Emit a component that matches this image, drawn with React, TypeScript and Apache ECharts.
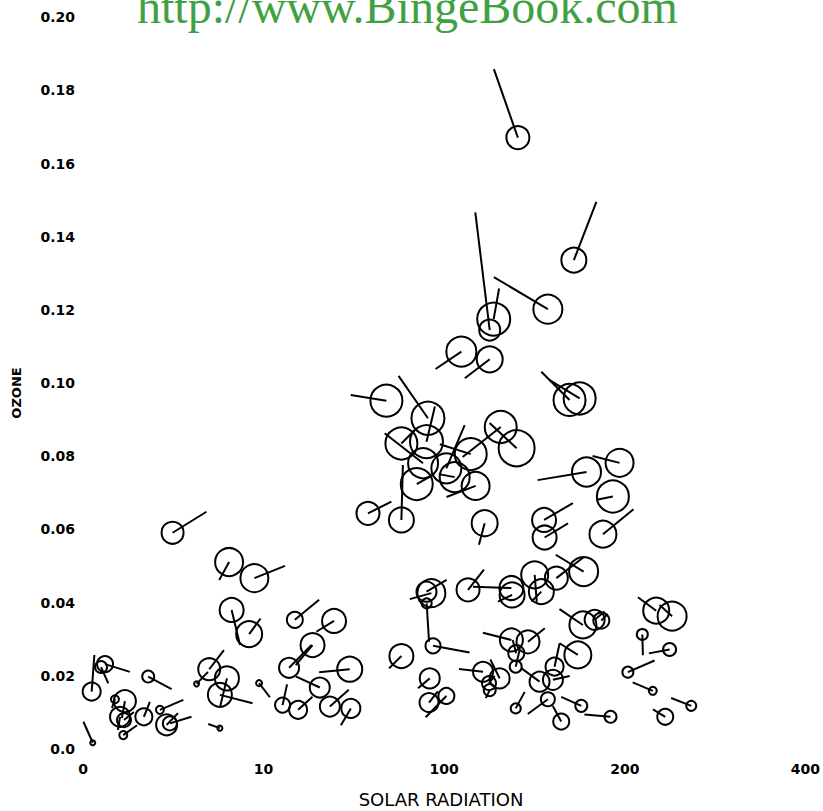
import React, { useEffect, useRef } from 'react';
import * as echarts from 'echarts';

// x positions are on the chart's own stretched scale: tick k carries label xTickLabels[k]
const xTickLabels = ['0', '10', '100', '200', '400'];

const solarScaled = [
  2.408, 2.718, 2.574, 2.274, 2.252, 2.095, 2.252, 1.680, 2.694, 2.750,
  1.910, 1.902, 1.763, 1.883, 2.012, 2.147, 2.313, 2.401, 1.848, 2.058,
  2.174, 2.788, 2.971, 2.934, 2.879, 2.553, 2.556, 1.578, 1.763, 2.224,
  0.496, 0.809, 0.949, 0.823, 0.920, 1.173, 1.390, 1.271, 1.141, 1.311,
  1.477, 1.105, 1.191, 1.367, 1.483, 1.929, 1.902, 1.903, 1.938, 1.763,
  1.920, 1.916, 2.012, 2.132, 2.372, 2.376, 2.501, 2.538, 2.621, 2.772,
  2.768, 2.833, 2.870, 3.174, 3.262, 2.372, 2.464, 2.399, 2.396, 2.215,
  2.307, 2.248, 2.252, 2.611, 2.740, 2.602, 2.528, 2.574, 2.396, 2.648,
  2.759, 2.921, 3.097, 3.248, 3.017, 3.155, 3.368, 3.224, 0.699, 0.797,
  0.758, 0.629, 0.975, 0.758, 0.122, 0.100, 0.048, 0.361, 0.177, 0.232,
  0.205, 0.227, 0.337, 0.223, 0.426, 0.463, 0.481, 0.054,
];

const ozone = [
  0.1671, 0.1336, 0.1202, 0.1175, 0.1145, 0.1086, 0.1065, 0.0952, 0.0954, 0.0958,
  0.0904, 0.0840, 0.0835, 0.0781, 0.0767, 0.0806, 0.0880, 0.0822, 0.0724, 0.0743,
  0.0719, 0.0757, 0.0782, 0.0690, 0.0587, 0.0626, 0.0578, 0.0644, 0.0626, 0.0617,
  0.0591, 0.0511, 0.0467, 0.0380, 0.0314, 0.0353, 0.0350, 0.0284, 0.0222, 0.0168,
  0.0218, 0.0120, 0.0107, 0.0116, 0.0111, 0.0426, 0.0430, 0.0398, 0.0282, 0.0254,
  0.0193, 0.0127, 0.0145, 0.0435, 0.0440, 0.0421, 0.0476, 0.0430, 0.0467, 0.0485,
  0.0339, 0.0353, 0.0351, 0.0378, 0.0363, 0.0298, 0.0293, 0.0262, 0.0225, 0.0211,
  0.0193, 0.0180, 0.0161, 0.0225, 0.0257, 0.0189, 0.0184, 0.0136, 0.0111, 0.0075,
  0.0118, 0.0088, 0.0313, 0.0272, 0.0210, 0.0159, 0.0118, 0.0088, 0.0218, 0.0193,
  0.0148, 0.0178, 0.0180, 0.0057, 0.0232, 0.0224, 0.0157, 0.0198, 0.0136, 0.0131,
  0.0088, 0.0079, 0.0088, 0.0038, 0.0107, 0.0066, 0.0070, 0.0017,
];

// circle size encodes temperature
const temperature = [
  79, 81, 85, 89, 77, 86, 82, 88, 88, 88,
  89, 89, 88, 86, 86, 88, 88, 92, 88, 86,
  84, 85, 84, 88, 83, 80, 80, 79, 81, 82,
  78, 84, 84, 80, 82, 72, 80, 80, 76, 76,
  81, 71, 74, 76, 75, 84, 76, 66, 71, 80,
  76, 75, 72, 79, 80, 81, 83, 81, 79, 85,
  83, 76, 72, 82, 85, 79, 79, 72, 68, 76,
  76, 70, 68, 74, 83, 76, 76, 70, 66, 72,
  68, 68, 67, 69, 67, 64, 66, 72, 78, 80,
  80, 61, 62, 61, 72, 68, 74, 68, 64, 78,
  76, 70, 73, 64, 64, 77, 70, 61,
];

// wind vector (east, north components)
const windU = [
  -8.0, 7.5, -18.0, 1.8, -4.8, -8.6, -8.3, -11.9, -9.4, -10,
  -9.8, 2.8, 4.4, -12.8, 6.1, -10.3, -12.7, -9, 5.3, -5.3,
  -9.7, -16.3, -9, -5.4, 10.2, 9.6, 7.8, 7.8, 0.5, -1.9,
  11.3, -3.3, 10.2, 2.8, 3.8, 8.1, -5.9, -5.6, 7.5, -8,
  -10.2, 1.5, 4.8, 6.3, -3.3, -7.2, 6.7, 0.8, 12.2, -4.1,
  -3.9, 2.9, -6.9, 5.3, -12.8, -4.7, 0.7, -3.3, 9.4, -9.3,
  -7.8, 3.3, 2.1, -6.1, -4.2, -9.5, 5.6, -1.2, 1.3, -8,
  -3.1, 1.9, -1.3, 1.7, -6.1, 5.6, -6.1, -6.7, 3, -2.8,
  -6.7, -8.7, 0.2, -6.9, 8.9, -6.7, -6.7, -4.1, 4.9, -2.3,
  10.9, 3.8, 3.6, -3.9, 8.3, 2.4, 0.9, 7.8, -1, -1,
  -0.7, 3.3, 2, 4.6, 7.8, 3.8, 7.2, -3.1,
];

const windV = [
  22.8, 19.4, 10.7, 10.2, 39.2, -5.8, -6.3, 1.9, 9.4, 6.1,
  14.1, 11.7, 4.4, 10, 14.4, 3.3, -10, 8.4, 3, 1,
  -3.7, -2.7, 2.3, -1.1, 8.3, 5.6, 4.7, 3.9, 18.3, -7.2,
  7, -6, 4.1, -11.7, 5.2, 6.7, -3.6, -6.7, 7.6, 3.7,
  -1, 6.9, 4.4, 5.6, -5.6, -2, 3.9, -12.8, -2.2, -4.1,
  -3.3, 3.7, -7.1, 6.7, 0.4, -2.2, -9, -3.3, 7.2, 5.6,
  5.3, 2.8, 2.2, 4.5, 3.7, 2.4, 4.5, 4.4, 5.6, 0.9,
  6.3, 2.4, -2.7, 7.8, 3.9, 1.3, 4.5, -4.9, 5.5, 5.2,
  3, 0.8, -6.9, -1.3, 3.9, 2.8, 2.6, 2.5, 6.4, -9.6,
  -2.8, 4, -4.7, 1.4, -2.6, -5.4, 12.2, -4.2, -2.9, -5.7,
  -4.4, 2.7, 5, 3.3, 3.3, 3.9, 2.2, 7,
];

const TEMP_BASE = 56;
const TEMP_PER_PX = 2;
const WIND_PX = 3;

export default function App() {
  const ref = useRef<HTMLDivElement>(null);

  useEffect(() => {
    const chart = echarts.init(ref.current as HTMLDivElement, null, { renderer: 'svg' });
    const data = solarScaled.map((x, i) => [x, ozone[i], temperature[i], windU[i], windV[i]]);
    const labelFont = { fontFamily: 'DejaVu Sans', fontWeight: 'bold' as const, fontSize: 14, color: '#000' };

    chart.setOption({
      animation: false,
      backgroundColor: '#ffffff',
      grid: { left: 83, right: 17, top: 17.2, bottom: 62 },
      xAxis: {
        type: 'value',
        min: 0,
        max: 4,
        interval: 1,
        axisLine: { show: false },
        axisTick: { show: false },
        splitLine: { show: false },
        axisLabel: {
          ...labelFont,
          margin: 13,
          formatter: (v: number) => xTickLabels[Math.round(v)] ?? '',
        },
      },
      yAxis: {
        type: 'value',
        min: 0,
        max: 0.2,
        interval: 0.02,
        axisLine: { show: false },
        axisTick: { show: false },
        splitLine: { show: false },
        axisLabel: {
          ...labelFont,
          margin: 8,
          formatter: (v: number) => (Math.abs(v) < 1e-9 ? '0.0' : v.toFixed(2)),
        },
      },
      graphic: [
        {
          type: 'text',
          x: 137,
          y: 6,
          style: {
            text: 'http://www.BingeBook.com',
            font: '48px "Liberation Serif"',
            fill: '#41a043',
            align: 'left',
            verticalAlign: 'middle',
          },
        },
        {
          type: 'text',
          x: 441,
          y: 799,
          style: {
            text: 'SOLAR RADIATION',
            font: '18px "DejaVu Sans"',
            fill: '#000',
            align: 'center',
            verticalAlign: 'middle',
          },
        },
        {
          type: 'text',
          x: 16,
          y: 393,
          rotation: Math.PI / 2,
          style: {
            text: 'OZONE',
            font: 'bold 13px "DejaVu Sans"',
            fill: '#000',
            align: 'center',
            verticalAlign: 'middle',
          },
        },
      ],
      series: [
        {
          type: 'custom',
          clip: false,
          encode: { x: 0, y: 1 },
          data,
          renderItem: (_params: any, api: any) => {
            const c = api.coord([api.value(0), api.value(1)]);
            const r = Math.max(1.5, (api.value(2) - TEMP_BASE) / TEMP_PER_PX);
            const dx = api.value(3) * WIND_PX;
            const dy = -api.value(4) * WIND_PX;
            return {
              type: 'group',
              children: [
                {
                  type: 'line',
                  shape: { x1: c[0], y1: c[1], x2: c[0] + dx, y2: c[1] + dy },
                  style: { stroke: '#000', lineWidth: 2 },
                },
                {
                  type: 'circle',
                  shape: { cx: c[0], cy: c[1], r },
                  style: { fill: 'none', stroke: '#000', lineWidth: 2 },
                },
              ],
            };
          },
        },
      ],
    });

    return () => chart.dispose();
  }, []);

  return (
    <div
      ref={ref}
      style={{ position: 'fixed', left: 0, top: 0, width: 823, height: 811, background: '#fff' }}
    />
  );
}
